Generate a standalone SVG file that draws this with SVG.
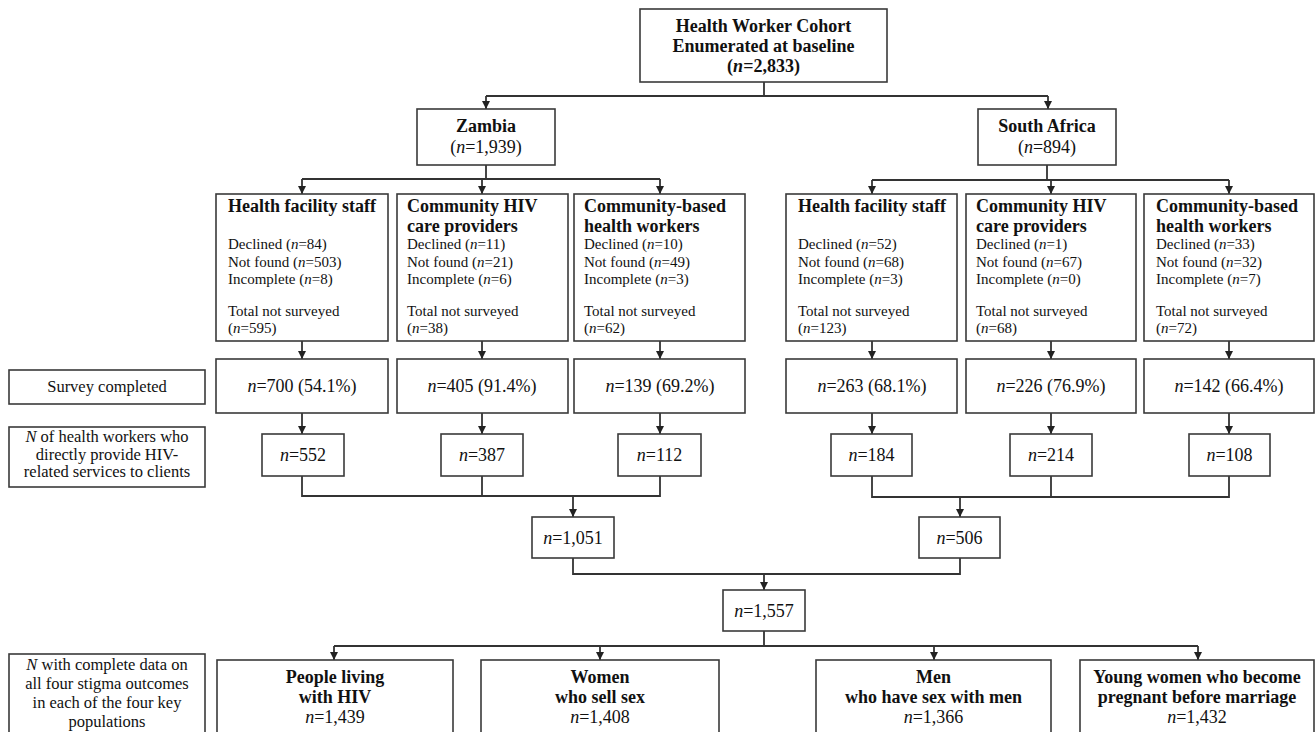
<svg xmlns="http://www.w3.org/2000/svg" width="1316" height="732" viewBox="0 0 1316 732">
<style>
  .box{fill:#fff;stroke:#3a3a3a;stroke-width:1.6}
  .ln{fill:none;stroke:#333;stroke-width:1.8}
  text{font-family:"Liberation Serif","Times New Roman",serif;fill:#111}
  .h{font-size:18px;font-weight:bold}
  .hc{font-size:18px;font-weight:bold;text-anchor:middle}
  .b{font-size:15px}
  .n{font-size:18px;text-anchor:middle}
  .lab{font-size:16.5px;text-anchor:middle}
  .i{font-style:italic}
</style>
<defs>
  <marker id="arr" viewBox="0 0 10 10" refX="10" refY="5" markerWidth="9" markerHeight="8" markerUnits="userSpaceOnUse" orient="auto">
    <path d="M0,0 L10,5 L0,10 z" fill="#222"/>
  </marker>
</defs>

<g id="connectors">
  <path class="ln" d="M764,82 V96 M486,96 H1048"/>
  <path class="ln" d="M486,96 V109" marker-end="url(#arr)"/>
  <path class="ln" d="M1048,96 V109" marker-end="url(#arr)"/>

  <path class="ln" d="M486,165 V179 M302,179 H660"/>
  <path class="ln" d="M302,179 V194" marker-end="url(#arr)"/>
  <path class="ln" d="M482,179 V194" marker-end="url(#arr)"/>
  <path class="ln" d="M660,179 V194" marker-end="url(#arr)"/>

  <path class="ln" d="M1047,165 V180 M872,180 H1229"/>
  <path class="ln" d="M872,180 V194" marker-end="url(#arr)"/>
  <path class="ln" d="M1051,180 V194" marker-end="url(#arr)"/>
  <path class="ln" d="M1229,180 V194" marker-end="url(#arr)"/>

  <path class="ln" d="M302,341 V359" marker-end="url(#arr)"/>
  <path class="ln" d="M482,341 V359" marker-end="url(#arr)"/>
  <path class="ln" d="M660,341 V359" marker-end="url(#arr)"/>
  <path class="ln" d="M872,341 V359" marker-end="url(#arr)"/>
  <path class="ln" d="M1051,341 V359" marker-end="url(#arr)"/>
  <path class="ln" d="M1229,341 V359" marker-end="url(#arr)"/>

  <path class="ln" d="M302,413 V434" marker-end="url(#arr)"/>
  <path class="ln" d="M482,413 V434" marker-end="url(#arr)"/>
  <path class="ln" d="M660,413 V434" marker-end="url(#arr)"/>
  <path class="ln" d="M872,413 V434" marker-end="url(#arr)"/>
  <path class="ln" d="M1051,413 V434" marker-end="url(#arr)"/>
  <path class="ln" d="M1229,413 V434" marker-end="url(#arr)"/>

  <path class="ln" d="M302,476 V496 H660 V476 M482,476 V496"/>
  <path class="ln" d="M573,496 V517" marker-end="url(#arr)"/>
  <path class="ln" d="M872,476 V497 H1229 V476 M1051,476 V497"/>
  <path class="ln" d="M960,497 V517" marker-end="url(#arr)"/>

  <path class="ln" d="M573,558 V574 H960 V558"/>
  <path class="ln" d="M764,574 V590" marker-end="url(#arr)"/>

  <path class="ln" d="M764,631 V646 M334,646 H1198"/>
  <path class="ln" d="M334,646 V660" marker-end="url(#arr)"/>
  <path class="ln" d="M600,646 V660" marker-end="url(#arr)"/>
  <path class="ln" d="M934,646 V660" marker-end="url(#arr)"/>
  <path class="ln" d="M1198,646 V660" marker-end="url(#arr)"/>
</g>

<g id="cohort">
  <rect class="box" x="640" y="9" width="247" height="73"/>
  <text class="hc" x="763.5" y="32">Health Worker Cohort</text>
  <text class="hc" x="763.5" y="52">Enumerated at baseline</text>
  <text class="hc" x="763.5" y="72">(<tspan class="i">n</tspan>=2,833)</text>
</g>

<g id="zambia">
  <rect class="box" x="417" y="109" width="138" height="56"/>
  <text class="hc" x="486" y="132">Zambia</text>
  <text class="n" x="486" y="153">(<tspan class="i">n</tspan>=1,939)</text>
</g>

<g id="southafrica">
  <rect class="box" x="978" y="109" width="138" height="56"/>
  <text class="hc" x="1047" y="132">South Africa</text>
  <text class="n" x="1047" y="153">(<tspan class="i">n</tspan>=894)</text>
</g>

<g id="z-hfs">
  <rect class="box" x="216" y="194" width="172" height="147"/>
  <text class="h" x="228" y="212">Health facility staff</text>
  <text class="b" x="228" y="249">Declined (<tspan class="i">n</tspan>=84)</text>
  <text class="b" x="228" y="266.5">Not found (<tspan class="i">n</tspan>=503)</text>
  <text class="b" x="228" y="284">Incomplete (<tspan class="i">n</tspan>=8)</text>
  <text class="b" x="228" y="316">Total not surveyed</text>
  <text class="b" x="228" y="333">(<tspan class="i">n</tspan>=595)</text>
</g>

<g id="z-chiv">
  <rect class="box" x="397" y="194" width="171" height="147"/>
  <text class="h" x="407" y="212">Community HIV</text>
  <text class="h" x="407" y="232">care providers</text>
  <text class="b" x="407" y="249">Declined (<tspan class="i">n</tspan>=11)</text>
  <text class="b" x="407" y="266.5">Not found (<tspan class="i">n</tspan>=21)</text>
  <text class="b" x="407" y="284">Incomplete (<tspan class="i">n</tspan>=6)</text>
  <text class="b" x="407" y="316">Total not surveyed</text>
  <text class="b" x="407" y="333">(<tspan class="i">n</tspan>=38)</text>
</g>

<g id="z-cbhw">
  <rect class="box" x="574" y="194" width="171" height="147"/>
  <text class="h" x="584" y="212">Community-based</text>
  <text class="h" x="584" y="232">health workers</text>
  <text class="b" x="584" y="249">Declined (<tspan class="i">n</tspan>=10)</text>
  <text class="b" x="584" y="266.5">Not found (<tspan class="i">n</tspan>=49)</text>
  <text class="b" x="584" y="284">Incomplete (<tspan class="i">n</tspan>=3)</text>
  <text class="b" x="584" y="316">Total not surveyed</text>
  <text class="b" x="584" y="333">(<tspan class="i">n</tspan>=62)</text>
</g>

<g id="sa-hfs">
  <rect class="box" x="786" y="194" width="171" height="147"/>
  <text class="h" x="798" y="212">Health facility staff</text>
  <text class="b" x="798" y="249">Declined (<tspan class="i">n</tspan>=52)</text>
  <text class="b" x="798" y="266.5">Not found (<tspan class="i">n</tspan>=68)</text>
  <text class="b" x="798" y="284">Incomplete (<tspan class="i">n</tspan>=3)</text>
  <text class="b" x="798" y="316">Total not surveyed</text>
  <text class="b" x="798" y="333">(<tspan class="i">n</tspan>=123)</text>
</g>

<g id="sa-chiv">
  <rect class="box" x="966" y="194" width="170" height="147"/>
  <text class="h" x="976" y="212">Community HIV</text>
  <text class="h" x="976" y="232">care providers</text>
  <text class="b" x="976" y="249">Declined (<tspan class="i">n</tspan>=1)</text>
  <text class="b" x="976" y="266.5">Not found (<tspan class="i">n</tspan>=67)</text>
  <text class="b" x="976" y="284">Incomplete (<tspan class="i">n</tspan>=0)</text>
  <text class="b" x="976" y="316">Total not surveyed</text>
  <text class="b" x="976" y="333">(<tspan class="i">n</tspan>=68)</text>
</g>

<g id="sa-cbhw">
  <rect class="box" x="1144" y="194" width="170" height="147"/>
  <text class="h" x="1156" y="212">Community-based</text>
  <text class="h" x="1156" y="232">health workers</text>
  <text class="b" x="1156" y="249">Declined (<tspan class="i">n</tspan>=33)</text>
  <text class="b" x="1156" y="266.5">Not found (<tspan class="i">n</tspan>=32)</text>
  <text class="b" x="1156" y="284">Incomplete (<tspan class="i">n</tspan>=7)</text>
  <text class="b" x="1156" y="316">Total not surveyed</text>
  <text class="b" x="1156" y="333">(<tspan class="i">n</tspan>=72)</text>
</g>

<g id="label-survey">
  <rect class="box" x="9" y="370" width="196" height="34"/>
  <text class="lab" x="107" y="392">Survey completed</text>
</g>

<g id="z-hfs-survey">
  <rect class="box" x="216" y="359" width="172" height="54"/>
  <text class="n" x="302" y="392"><tspan class="i">n</tspan>=700 (54.1%)</text>
</g>
<g id="z-chiv-survey">
  <rect class="box" x="397" y="359" width="171" height="54"/>
  <text class="n" x="482" y="392"><tspan class="i">n</tspan>=405 (91.4%)</text>
</g>
<g id="z-cbhw-survey">
  <rect class="box" x="574" y="359" width="171" height="54"/>
  <text class="n" x="660" y="392"><tspan class="i">n</tspan>=139 (69.2%)</text>
</g>
<g id="sa-hfs-survey">
  <rect class="box" x="786" y="359" width="171" height="54"/>
  <text class="n" x="872" y="392"><tspan class="i">n</tspan>=263 (68.1%)</text>
</g>
<g id="sa-chiv-survey">
  <rect class="box" x="966" y="359" width="170" height="54"/>
  <text class="n" x="1051" y="392"><tspan class="i">n</tspan>=226 (76.9%)</text>
</g>
<g id="sa-cbhw-survey">
  <rect class="box" x="1144" y="359" width="170" height="54"/>
  <text class="n" x="1229" y="392"><tspan class="i">n</tspan>=142 (66.4%)</text>
</g>

<g id="label-hiv">
  <rect class="box" x="9" y="427" width="196" height="60"/>
  <text class="lab" x="107" y="442"><tspan class="i">N</tspan> of health workers who</text>
  <text class="lab" x="107" y="459.5">directly provide HIV-</text>
  <text class="lab" x="107" y="477">related services to clients</text>
</g>

<g id="z-hfs-hiv">
  <rect class="box" x="262" y="434" width="82" height="42"/>
  <text class="n" x="303" y="461"><tspan class="i">n</tspan>=552</text>
</g>
<g id="z-chiv-hiv">
  <rect class="box" x="441" y="434" width="82" height="42"/>
  <text class="n" x="482" y="461"><tspan class="i">n</tspan>=387</text>
</g>
<g id="z-cbhw-hiv">
  <rect class="box" x="618" y="434" width="83" height="42"/>
  <text class="n" x="659.5" y="461"><tspan class="i">n</tspan>=112</text>
</g>
<g id="sa-hfs-hiv">
  <rect class="box" x="831" y="434" width="81" height="42"/>
  <text class="n" x="871.5" y="461"><tspan class="i">n</tspan>=184</text>
</g>
<g id="sa-chiv-hiv">
  <rect class="box" x="1010" y="434" width="82" height="42"/>
  <text class="n" x="1051" y="461"><tspan class="i">n</tspan>=214</text>
</g>
<g id="sa-cbhw-hiv">
  <rect class="box" x="1189" y="434" width="81" height="42"/>
  <text class="n" x="1229.5" y="461"><tspan class="i">n</tspan>=108</text>
</g>

<g id="zambia-total">
  <rect class="box" x="532" y="517" width="82" height="41"/>
  <text class="n" x="573" y="544"><tspan class="i">n</tspan>=1,051</text>
</g>
<g id="sa-total">
  <rect class="box" x="919" y="517" width="81" height="41"/>
  <text class="n" x="959.5" y="544"><tspan class="i">n</tspan>=506</text>
</g>
<g id="grand-total">
  <rect class="box" x="723" y="590" width="82" height="41"/>
  <text class="n" x="764" y="617"><tspan class="i">n</tspan>=1,557</text>
</g>

<g id="label-complete">
  <rect class="box" x="9" y="654" width="196" height="90"/>
  <text class="lab" x="107" y="670"><tspan class="i">N</tspan> with complete data on</text>
  <text class="lab" x="107" y="689">all four stigma outcomes</text>
  <text class="lab" x="107" y="708">in each of the four key</text>
  <text class="lab" x="107" y="727">populations</text>
</g>

<g id="plhiv">
  <rect class="box" x="217" y="660" width="236" height="84"/>
  <text class="hc" x="335" y="683">People living</text>
  <text class="hc" x="335" y="703">with HIV</text>
  <text class="n" x="335" y="723"><tspan class="i">n</tspan>=1,439</text>
</g>
<g id="women">
  <rect class="box" x="481" y="660" width="238" height="84"/>
  <text class="hc" x="600" y="683">Women</text>
  <text class="hc" x="600" y="703">who sell sex</text>
  <text class="n" x="600" y="723"><tspan class="i">n</tspan>=1,408</text>
</g>
<g id="msm">
  <rect class="box" x="816" y="660" width="235" height="84"/>
  <text class="hc" x="933.5" y="683">Men</text>
  <text class="hc" x="933.5" y="703">who have sex with men</text>
  <text class="n" x="933.5" y="723"><tspan class="i">n</tspan>=1,366</text>
</g>
<g id="young-women">
  <rect class="box" x="1080" y="660" width="234" height="84"/>
  <text class="hc" x="1197" y="683">Young women who become</text>
  <text class="hc" x="1197" y="703">pregnant before marriage</text>
  <text class="n" x="1197" y="723"><tspan class="i">n</tspan>=1,432</text>
</g>
</svg>
